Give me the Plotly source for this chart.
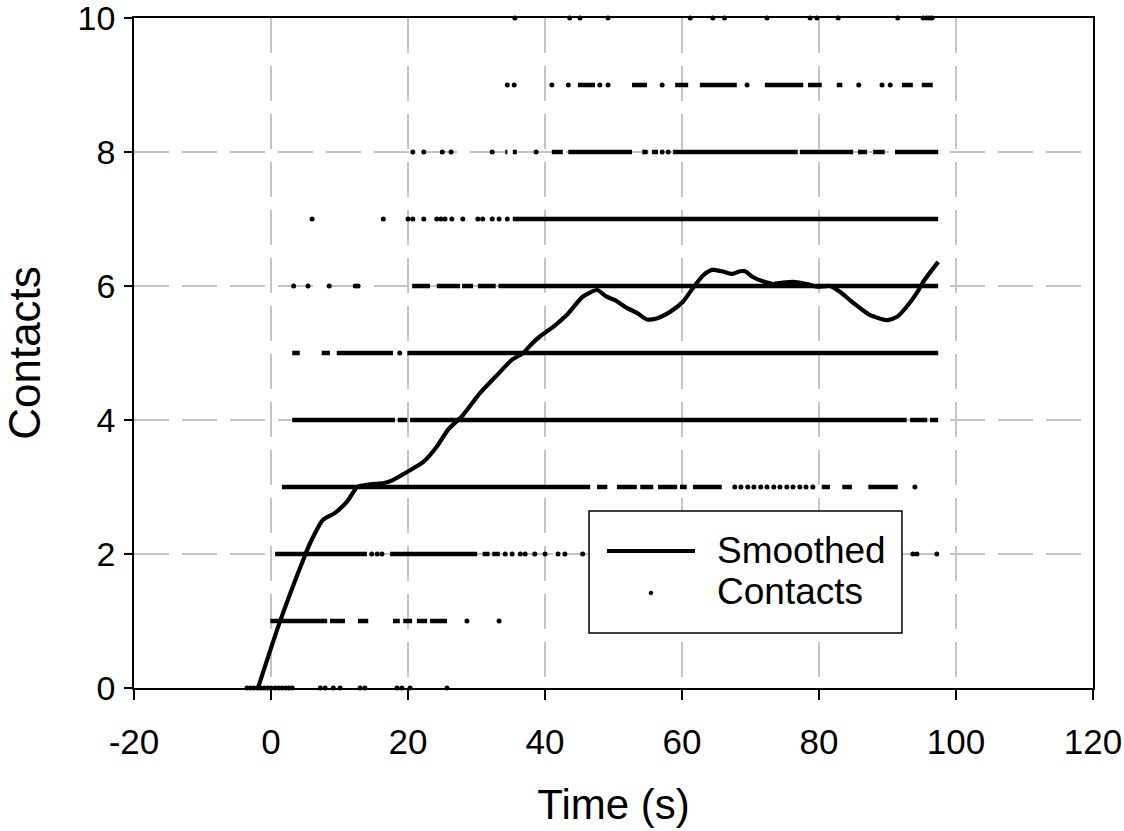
import plotly.graph_objects as go

# ---------------- data ----------------
# Smoothed contact count
smooth_t = [-1.9, 1.3, 5.0, 5.7, 7.6, 9.3, 11.1, 12.6, 14.5, 16.5, 17.7, 20.3, 22.2, 24.2, 25.8,
            28.0, 30.5, 33.0, 35.2, 36.8, 38.2, 39.3, 41.2, 43.2, 45.5, 47.6, 49.0, 50.2,
            52.0, 53.4, 54.9, 56.4, 58.2, 60.1, 61.6, 63.1, 64.4, 65.8, 67.3, 68.5, 69.2,
            70.4, 71.8, 73.3, 74.7, 76.5, 78.2, 79.7, 81.6, 83.1, 84.5, 86.0, 87.4, 89.9,
            91.4, 92.8, 94.3, 95.2, 97.4]
smooth_y = [0.0, 0.99, 1.99, 2.16, 2.51, 2.61, 2.78, 3.0, 3.04, 3.06, 3.1, 3.25, 3.37, 3.6, 3.85,
            4.07, 4.4, 4.67, 4.9, 5.0, 5.15, 5.25, 5.39, 5.57, 5.84, 5.94, 5.84, 5.79,
            5.67, 5.6, 5.5, 5.52, 5.61, 5.76, 5.97, 6.16, 6.24, 6.22, 6.18, 6.22, 6.22,
            6.13, 6.07, 6.03, 6.05, 6.06, 6.03, 5.99, 6.0, 5.91, 5.79, 5.67, 5.57, 5.49,
            5.54, 5.69, 5.9, 6.06, 6.36]

# Raw contacts: isolated samples (time, s) per contact level
dots_0 = [-3.5, -3.0, -2.5, -2.0, -1.5, -1.0, -0.5, 0.0, 0.6, 1.1, 1.6, 2.1, 2.6, 3.1,
          7.2, 7.9, 9.1, 10.1, 13.0, 13.7, 18.4, 19.1, 20.3, 25.7]
dots_1 = [28.6, 33.3]
dots_2 = [14.7, 15.5, 16.2, 34.2, 35.2, 36.4, 37.1, 38.5, 40.0, 41.9, 42.9, 45.5, 93.7, 94.3, 97.2]
dots_3 = [67.7, 68.6, 69.6, 70.5, 71.5, 72.4, 73.4, 74.3, 75.3, 76.2, 77.2, 78.1, 79.1, 94.0]
dots_4 = []
dots_5 = [18.8]
dots_6 = [3.3, 5.4, 8.5, 12.3, 12.7]
dots_7 = [6.0, 16.4, 20.0, 20.7, 22.3, 24.2, 24.8, 25.4, 26.4, 28.0, 30.2, 30.9, 32.3, 33.3, 34.5]
dots_8 = [20.7, 22.3, 25.0, 26.3, 32.3, 38.7, 57.1, 58.0]
dots_9 = [34.5, 35.5, 41.0, 43.4, 48.0, 49.2, 57.1, 69.5, 85.8, 89.2, 90.4]
dots_10 = [35.6, 43.6, 45.1, 49.2, 61.2, 64.5, 66.2, 72.4, 78.7, 79.7, 82.8, 91.5,
           95.2, 95.7, 96.1, 96.5]

# Raw contacts: stretches (start, end) where samples are packed densely
runs_1 = [(-0.1, 8.2), (8.6, 10.8), (12.7, 14.2), (17.8, 18.8), (19.3, 20.6), (21.3, 22.8), (23.2, 25.7)]
runs_2 = [(0.6, 14.0), (17.4, 30.1), (30.9, 31.9), (32.3, 33.4)]
runs_3 = [(1.6, 46.6), (47.6, 49.1), (50.5, 53.4), (53.9, 55.8), (56.5, 59.3), (59.7, 60.7),
          (61.6, 65.8), (80.4, 81.6), (83.4, 84.8), (87.2, 91.5)]
runs_4 = [(3.1, 18.1), (18.5, 19.9), (20.3, 92.8), (93.3, 95.8), (96.2, 97.4)]
runs_5 = [(3.1, 4.2), (7.4, 8.6), (9.6, 17.8), (19.9, 97.4)]
runs_6 = [(20.6, 23.2), (24.2, 27.6), (27.9, 29.5), (30.2, 32.8), (33.2, 97.4)]
runs_7 = [(35.3, 97.4)]
runs_8 = [(34.2, 34.5), (35.3, 35.9), (41.0, 42.6), (43.4, 52.7), (54.2, 55.0), (55.6, 56.5),
          (58.7, 76.9), (77.2, 85.0), (85.7, 87.0), (87.9, 89.6), (91.1, 97.4)]
runs_9 = [(44.8, 47.3), (52.7, 54.9), (59.0, 60.9), (62.6, 68.0), (72.1, 77.7), (78.4, 80.4),
          (82.6, 83.4), (92.1, 93.7), (95.0, 96.6)]

levels = [0, 1, 2, 3, 4, 5, 6, 7, 8, 9, 10]
dots_by_level = [dots_0, dots_1, dots_2, dots_3, dots_4, dots_5, dots_6, dots_7, dots_8, dots_9, dots_10]
runs_by_level = [[], runs_1, runs_2, runs_3, runs_4, runs_5, runs_6, runs_7, runs_8, runs_9, []]

x_ticks = [-20, 0, 20, 40, 60, 80, 100, 120]
y_ticks = [0, 2, 4, 6, 8, 10]

# ---------------- build figure ----------------
dot_x, dot_y = [], []
for lv, ds in zip(levels, dots_by_level):
    dot_x += ds
    dot_y += [lv] * len(ds)

run_x, run_y = [], []
for lv, rs in zip(levels, runs_by_level):
    for s, e in rs:
        run_x += [s, e, None]
        run_y += [lv, lv, None]

fig = go.Figure()
fig.add_trace(go.Scatter(x=run_x, y=run_y, mode="lines", name="Contacts",
                         line=dict(color="black", width=4.5), showlegend=False,
                         hoverinfo="skip"))
fig.add_trace(go.Scatter(x=dot_x, y=dot_y, mode="markers", name="Contacts",
                         marker=dict(color="black", size=5), cliponaxis=False,
                         showlegend=False))
fig.add_trace(go.Scatter(x=smooth_t, y=smooth_y, mode="lines", name="Smoothed",
                         line=dict(color="black", width=4.2, shape="spline", smoothing=0.6),
                         showlegend=False))

font_family = "Liberation Sans, Arial, sans-serif"

fig.update_layout(
    width=1124, height=831,
    margin=dict(l=134, r=31, t=18, b=143, autoexpand=False),
    paper_bgcolor="white", plot_bgcolor="white",
    font=dict(family=font_family, color="black"),
    xaxis=dict(range=[-20, 120], tickvals=x_ticks, ticktext=[str(v) for v in x_ticks],
               automargin=False, ticklabeloverflow="allow",
               showline=True, linecolor="black", linewidth=1.5, mirror=True,
               ticks="outside", ticklen=10, tickwidth=1.5, tickcolor="black",
               showgrid=True, gridcolor="#c4c4c4", gridwidth=1.5, griddash="35px,13px",
               zeroline=False, ticklabelstandoff=12,
               tickfont=dict(size=35),
               title=dict(text="Time (s)", font=dict(size=42), standoff=30)),
    yaxis=dict(range=[0, 10], tickvals=y_ticks, ticktext=[str(v) for v in y_ticks],
               automargin=False, ticklabeloverflow="allow",
               showline=True, linecolor="black", linewidth=1.5, mirror=True,
               ticks="outside", ticklen=8, tickwidth=1.5, tickcolor="black",
               showgrid=True, gridcolor="#c4c4c4", gridwidth=1.5, griddash="35px,13px",
               zeroline=False, ticklabelstandoff=2,
               tickfont=dict(size=34),
               title=dict(text="Contacts", font=dict(size=44), standoff=41)),
)

# ---------------- legend box (drawn in paper coordinates) ----------------
fig.add_shape(type="rect", xref="paper", yref="paper", x0=0.4745, x1=0.8008, y0=0.0821, y1=0.2642,
              line=dict(color="black", width=1.5), fillcolor="white", layer="above")
fig.add_shape(type="line", xref="paper", yref="paper", x0=0.4932, x1=0.5850, y0=0.2045, y1=0.2045,
              line=dict(color="black", width=4), layer="above")
fig.add_shape(type="circle", xref="paper", yref="paper", x0=0.5391 - 0.0019, x1=0.5391 + 0.0019,
              y0=0.1418 - 0.0027, y1=0.1418 + 0.0027, line=dict(color="black", width=1),
              fillcolor="black", layer="above")
fig.add_annotation(xref="paper", yref="paper", x=0.6059, y=0.2045, text="Smoothed", showarrow=False,
                   xanchor="left", yanchor="middle", font=dict(size=37, color="black"))
fig.add_annotation(xref="paper", yref="paper", x=0.6059, y=0.1433, text="Contacts", showarrow=False,
                   xanchor="left", yanchor="middle", font=dict(size=37, color="black"))

# remove the default 8px page margin so the figure fills the window exactly
fig.write_html("out.html", config={"displayModeBar": False},
               post_script="document.body.style.margin='0';")
